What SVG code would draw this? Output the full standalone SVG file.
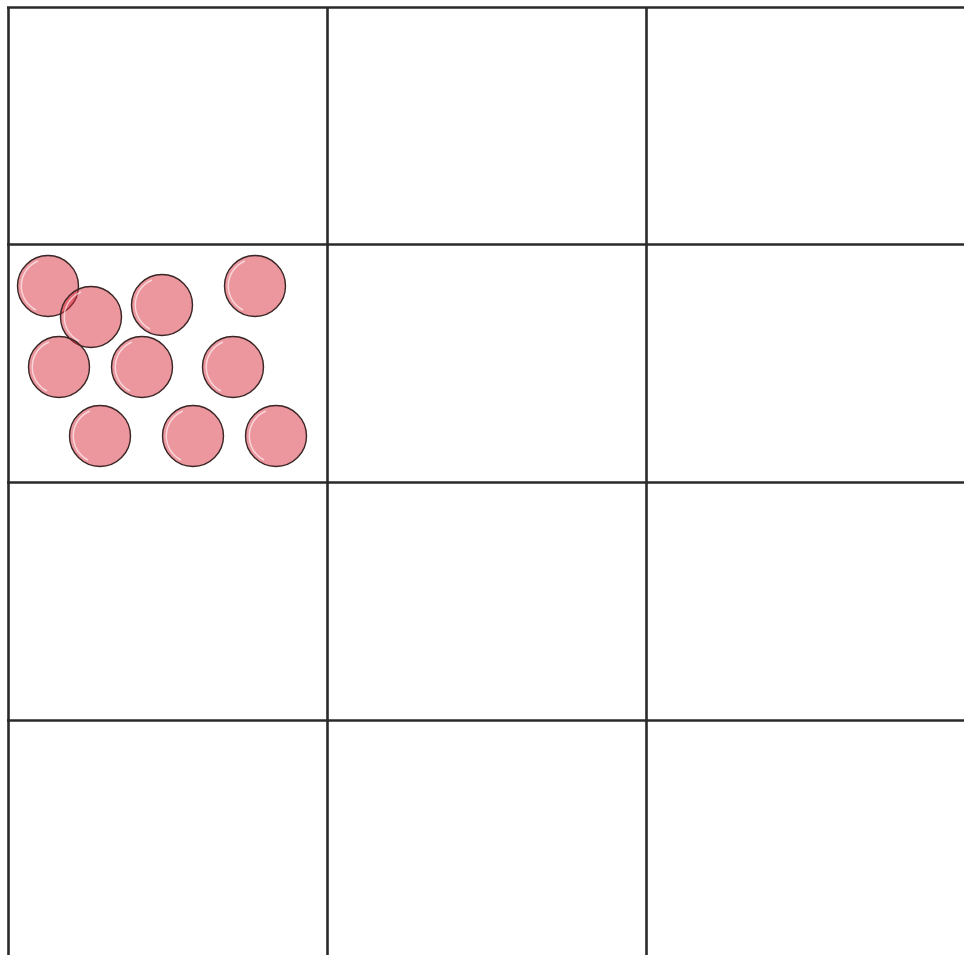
<svg xmlns="http://www.w3.org/2000/svg" width="964" height="955" viewBox="0 0 964 955">
<style>
.grid{stroke:#2a2a2a;stroke-width:2.6;fill:none}
.ball{fill:#d92d3d;fill-opacity:0.5;stroke:#3a2626;stroke-width:1.4}
.hl{fill:none;stroke:#ffffff;stroke-opacity:0.6;stroke-width:1.5}
</style>
<defs>
<g id="b">
<circle class="ball" r="30.5"/>
<path class="hl" d="M-10,-25 A27,27 0 0 0 -12,24"/>
</g>
</defs>
<rect width="964" height="955" fill="#ffffff"/>
<g id="grid">
<line class="grid" x1="8.5" y1="7" x2="8.5" y2="955"/>
<line class="grid" x1="327.5" y1="7" x2="327.5" y2="955"/>
<line class="grid" x1="646.5" y1="7" x2="646.5" y2="955"/>
<line class="grid" x1="7" y1="7.5" x2="964" y2="7.5"/>
<line class="grid" x1="7" y1="244.5" x2="964" y2="244.5"/>
<line class="grid" x1="7" y1="482.5" x2="964" y2="482.5"/>
<line class="grid" x1="7" y1="720.5" x2="964" y2="720.5"/>
</g>
<g id="balls">
<use href="#b" x="48" y="286"/>
<use href="#b" x="91" y="317"/>
<use href="#b" x="162" y="305"/>
<use href="#b" x="255" y="286"/>
<use href="#b" x="59" y="367"/>
<use href="#b" x="142" y="367"/>
<use href="#b" x="233" y="367"/>
<use href="#b" x="100" y="436"/>
<use href="#b" x="193" y="436"/>
<use href="#b" x="276" y="436"/>
</g>
</svg>
